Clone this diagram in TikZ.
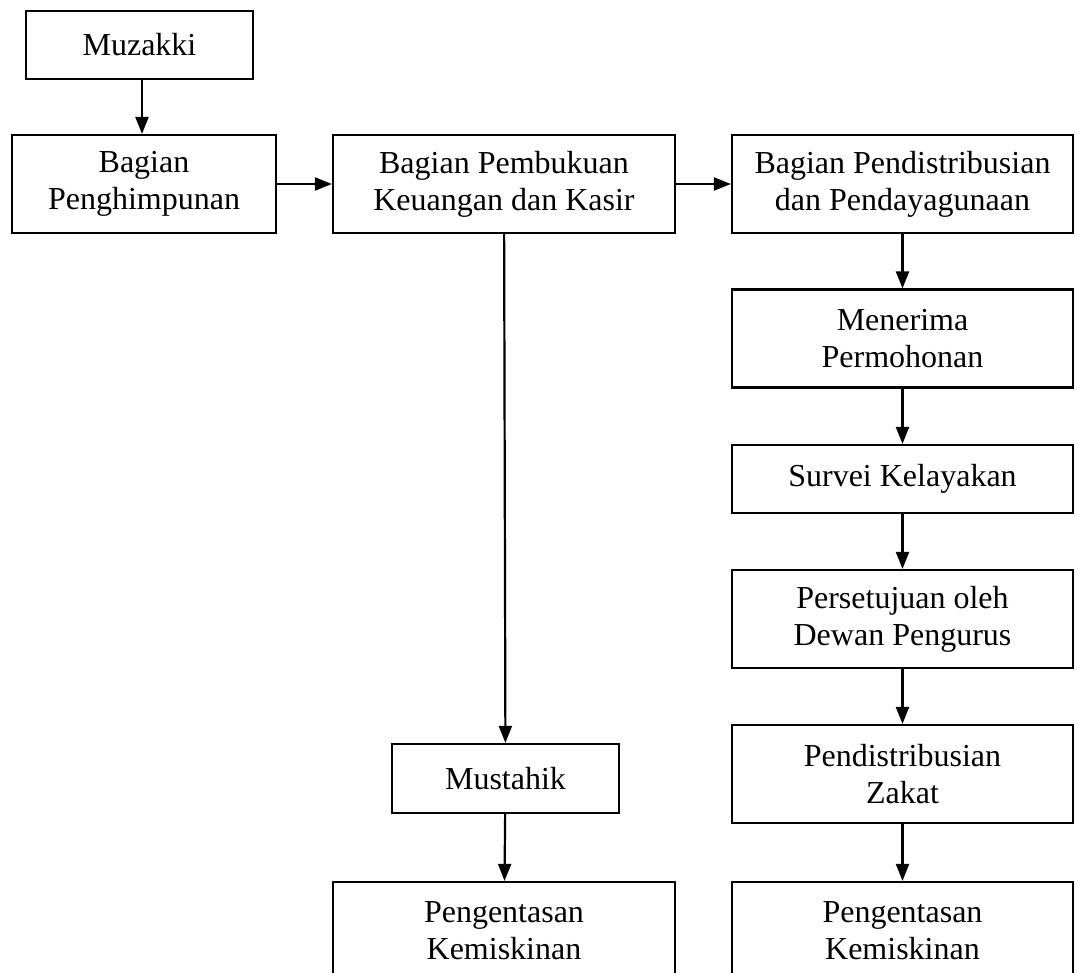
\documentclass[tikz,border=0pt]{standalone}
\usepackage{fontspec}
\setmainfont{Liberation Serif}
\usetikzlibrary{arrows.meta}

\begin{document}
\begin{tikzpicture}[x=0.5pt, y=-0.5pt,
  >={Triangle[length=8.5pt,width=6.5pt]},
  box/.style={draw, line width=1.1pt, inner sep=0pt, align=center,
    font=\fontsize{16pt}{18.5pt}\selectfont, minimum height=49pt},
  flow/.style={->, line width=1.1pt}]
\useasboundingbox (0,0) rectangle (1077,973);

% Left part
\node[box, minimum width=113.5pt, minimum height=34pt] (muzakki) at (139.5,45) {Muzakki};
\node[box, minimum width=132pt] (himpun) at (144,184) {Bagian\\Penghimpunan};
\node[box, minimum width=171pt] (kasir) at (504,184) {Bagian Pembukuan\\Keuangan dan Kasir};
\node[box, minimum width=113.5pt, minimum height=34.5pt] (mustahik) at (505.5,778.5) {Mustahik};
\node[box, minimum width=171pt] (entasL) at (504,931) {Pengentasan\\Kemiskinan};

% Right column
\node[box, minimum width=170.5pt] (distribusi) at (902.5,184) {Bagian Pendistribusian\\dan Pendayagunaan};
\node[box, minimum width=170.5pt] (terima) at (902.5,338.5) {Menerima\\Permohonan};
\node[box, minimum width=170.5pt, minimum height=34pt] (survei) at (902.5,479) {Survei Kelayakan};
\node[box, minimum width=170.5pt] (setuju) at (902.5,619) {Persetujuan oleh\\Dewan Pengurus};
\node[box, minimum width=170.5pt] (zakat) at (902.5,774) {Pendistribusian\\Zakat};
\node[box, minimum width=170.5pt] (entasR) at (902.5,931) {Pengentasan\\Kemiskinan};

% Arrows
\draw[flow] ([xshift=1.25pt]muzakki.south) -- ([xshift=1.25pt]muzakki.south |- himpun.north);
\draw[flow] (himpun) -- (kasir);
\draw[flow] (kasir) -- (distribusi);
\draw[flow] (kasir) -- (mustahik);
\draw[flow] (mustahik) -- (entasL);
\draw[flow] (distribusi) -- (terima);
\draw[flow] (terima) -- (survei);
\draw[flow] (survei) -- (setuju);
\draw[flow] (setuju) -- (zakat);
\draw[flow] (zakat) -- (entasR);
\end{tikzpicture}
\end{document}
